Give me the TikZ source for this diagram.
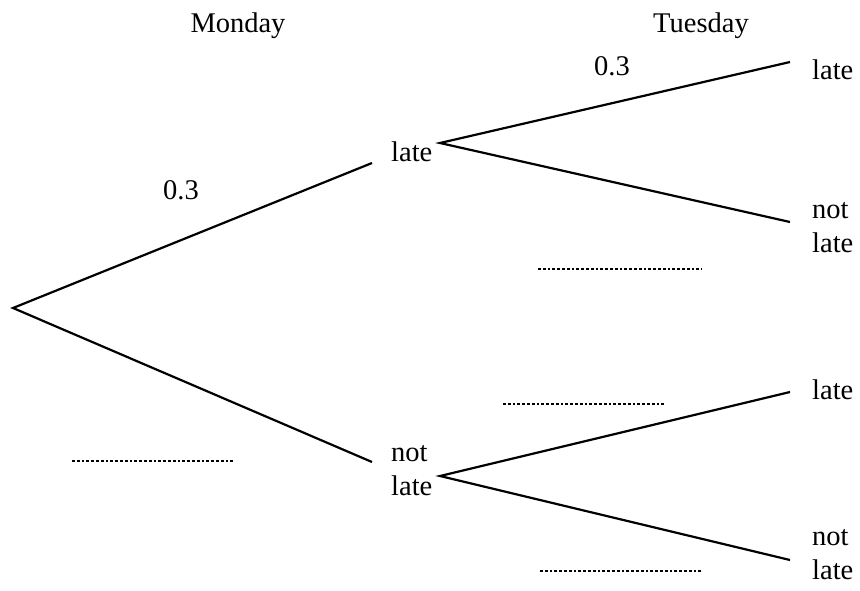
\documentclass[tikz,border=0pt]{standalone}
\usepackage{fontspec}
\setmainfont{Liberation Serif}
\tikzset{
    branch/.style = {line width=2.2pt},
    blank/.style = {line width=2.8pt, dash pattern=on 2.8pt off 2pt},
    lbl/.style = {anchor=west, inner sep=0pt, align=left}
}
\begin{document}
\begin{tikzpicture}[x=1pt,y=-1pt,node font = \fontsize{28.5}{34}\selectfont]
            \useasboundingbox (0,0) rectangle (860,590);
            % headings
            \node (mon) at (238,26) {Monday};
            \node (tue) at (701,26) {Tuesday};
            % monday
            \coordinate (root) at (13,308);
            \coordinate (l1) at (372,163);
            \coordinate (n1) at (372,462);
            \node [lbl] (late1) at (391,152) {late};
            \node [lbl] (notlate1) at (391,471) {not\\late};
            \draw [branch] (l1) -- (root) -- (n1);
            % tuesday
            \coordinate (l1o) at (440,143);
            \coordinate (n1o) at (440,476);
            \coordinate (ll) at (790,62);
            \coordinate (ln) at (790,222);
            \coordinate (nl) at (790,392);
            \coordinate (nn) at (790,560);
            \node [lbl] (late2) at (812,70) {late};
            \node [lbl] (notlate2) at (812,228) {not\\late};
            \node [lbl] (late3) at (812,390) {late};
            \node [lbl] (notlate3) at (812,555) {not\\late};
            \draw [branch] (ll) -- (l1o) -- (ln);
            \draw [branch] (nl) -- (n1o) -- (nn);
            % probabilities
            \node (p1) at (181,190) {0.3};
            \node (p2) at (612,66) {0.3};
            \coordinate (a1) at (72,461);  \coordinate (b1) at (234,461);
            \coordinate (a2) at (538,269); \coordinate (b2) at (702,269);
            \coordinate (a3) at (503,404); \coordinate (b3) at (666,404);
            \coordinate (a4) at (540,571); \coordinate (b4) at (703,571);
            \foreach \i in {1,...,4}
                \draw [blank] (a\i) -- (b\i);
        \end{tikzpicture}
\end{document}
